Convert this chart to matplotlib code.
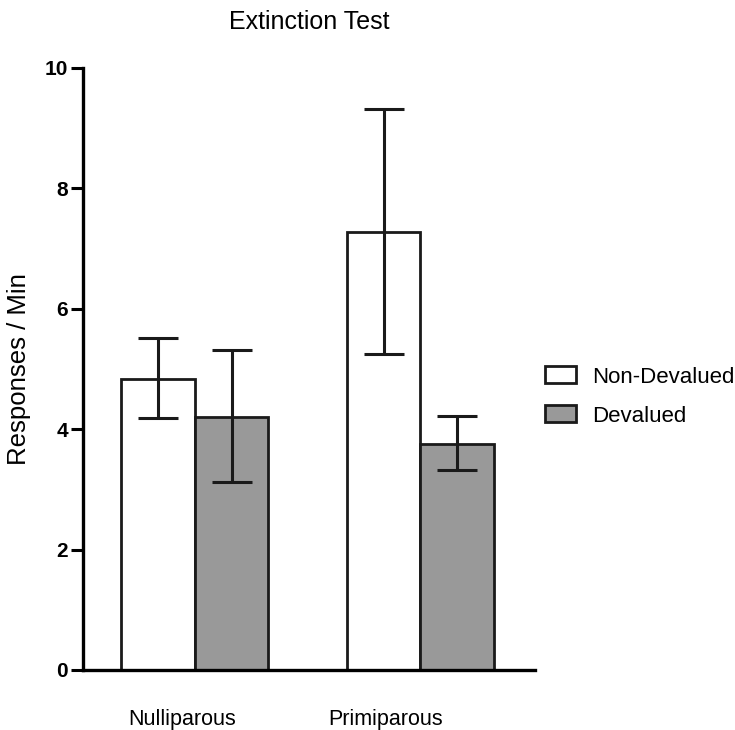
import numpy as np
import matplotlib.pyplot as plt
from matplotlib.patches import Patch

plt.rcParams['font.family'] = ['Liberation Sans', 'DejaVu Sans']

groups = ['Nulliparous', 'Primiparous']
non_devalued = [4.83, 7.27]
non_devalued_err_lo = [4.19, 5.25]
non_devalued_err_hi = [5.52, 9.32]
devalued = [4.20, 3.75]
devalued_err_lo = [3.12, 3.32]
devalued_err_hi = [5.32, 4.21]

centers = np.array([1.52, 4.59])
label_pos = np.array([1.35, 4.11])
w = 1.0

fig = plt.figure(figsize=(7.35, 7.30), dpi=100)
ax = fig.add_axes([0.113, 0.0822, 0.615, 0.825])

nd = np.array(non_devalued)
dv = np.array(devalued)
nd_err = [nd - np.array(non_devalued_err_lo), np.array(non_devalued_err_hi) - nd]
dv_err = [dv - np.array(devalued_err_lo), np.array(devalued_err_hi) - dv]

ax.bar(centers - w / 2, nd, width=w, color='white', edgecolor='#1a1a1a', linewidth=2, zorder=2)
ax.bar(centers + w / 2, dv, width=w, color='#999999', edgecolor='#1a1a1a', linewidth=2, zorder=2)
ax.errorbar(centers - w / 2, nd, yerr=nd_err, fmt='none', ecolor='#1a1a1a',
            elinewidth=2.2, capsize=14.5, capthick=2.2, zorder=3)
ax.errorbar(centers + w / 2, dv, yerr=dv_err, fmt='none', ecolor='#1a1a1a',
            elinewidth=2.2, capsize=14.5, capthick=2.2, zorder=3)

ax.set_xlim(0, 6.15)
ax.set_ylim(0, 10)
ax.set_yticks([0, 2, 4, 6, 8, 10])
ax.set_xticks(label_pos)
ax.set_xticklabels(groups, fontsize=15.5)
ax.tick_params(axis='x', length=0, pad=28)
ax.tick_params(axis='y', length=9, width=2.2, labelsize=15, pad=2)
for t in ax.get_yticklabels():
    t.set_fontweight('bold')

for s in ['top', 'right']:
    ax.spines[s].set_visible(False)
for s in ['left', 'bottom']:
    ax.spines[s].set_linewidth(2.4)

ax.set_ylabel('Responses / Min', fontsize=18.5, labelpad=10)
ax.set_title('Extinction Test', fontsize=18, pad=28)

handles = [Patch(facecolor='white', edgecolor='#1a1a1a', linewidth=2, label='Non-Devalued'),
           Patch(facecolor='#999999', edgecolor='#1a1a1a', linewidth=2, label='Devalued')]
fig.legend(handles=handles, loc='center left', bbox_to_anchor=(0.741, 0.457), frameon=False,
           fontsize=16, handlelength=1.4, handleheight=0.8, labelspacing=0.8, handletextpad=0.75,
           borderaxespad=0, borderpad=0)

fig.savefig('out.png', dpi=100)
